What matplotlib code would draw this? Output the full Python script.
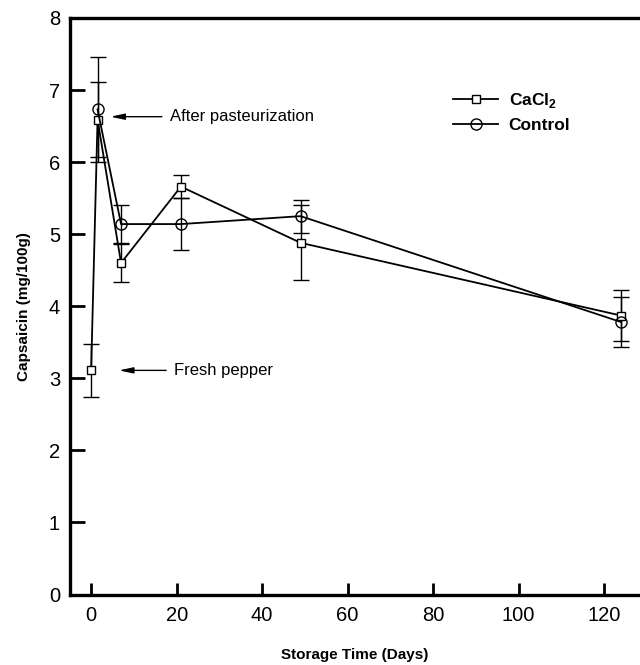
import numpy as np
import matplotlib
matplotlib.use('Agg')
import matplotlib.pyplot as plt
import matplotlib as mpl

mpl.rcParams['font.family'] = ['Liberation Sans', 'DejaVu Sans']
mpl.rcParams['mathtext.fontset'] = 'custom'
mpl.rcParams['mathtext.rm'] = 'Liberation Sans'
mpl.rcParams['mathtext.bf'] = 'Liberation Sans:bold'

# storage days
days_cacl2 = [0, 1.5, 7, 21, 49, 124]
cap_cacl2 = [3.11, 6.59, 4.60, 5.66, 4.88, 3.87]
err_cacl2 = [0.37, 0.52, 0.27, 0.16, 0.52, 0.35]

days_ctrl = [1.5, 7, 21, 49, 124]
cap_ctrl = [6.73, 5.14, 5.14, 5.25, 3.78]
err_ctrl = [0.73, 0.26, 0.36, 0.23, 0.35]

x_ticks = [0, 20, 40, 60, 80, 100, 120]
y_ticks = [0, 1, 2, 3, 4, 5, 6, 7, 8]

fig = plt.figure(figsize=(6.4, 6.65), dpi=100)
ax = fig.add_axes([0.109, 0.106, 0.891, 0.867])

eb1 = ax.errorbar(days_cacl2, cap_cacl2, yerr=err_cacl2, color='k', marker='s',
                  markersize=6, mfc='white', mec='k', mew=1.0, linewidth=1.3,
                  elinewidth=1.0, capsize=6, capthick=1.2)
eb2 = ax.errorbar(days_ctrl, cap_ctrl, yerr=err_ctrl, color='k', marker='o',
                  markersize=8, mfc='none', mec='k', mew=1.0, linewidth=1.3,
                  elinewidth=1.0, capsize=6, capthick=1.2)

ax.set_xlim(-5, 128.4)
ax.set_ylim(0, 8)
ax.set_xticks(x_ticks)
ax.set_yticks(y_ticks)
ax.tick_params(direction='in', length=9, width=2, labelsize=14.5, pad=8)
ax.tick_params(axis='y', length=11, pad=7)

for side in ['left', 'bottom', 'top']:
    ax.spines[side].set_linewidth(2.4)
ax.spines['right'].set_visible(False)

ax.set_xlabel('Storage Time (Days)', fontsize=11, fontweight='bold', labelpad=17)
ax.set_ylabel('Capsaicin (mg/100g)', fontsize=11, fontweight='bold', labelpad=13)

ax.annotate('After pasteurization', xy=(4.5, 6.63), xytext=(18.5, 6.63),
            fontsize=12, va='center', ha='left',
            arrowprops=dict(arrowstyle='-|>,head_length=0.7,head_width=0.15',
                            color='k', lw=1.0, shrinkA=4, shrinkB=0))
ax.annotate('Fresh pepper', xy=(6.5, 3.11), xytext=(19.5, 3.11),
            fontsize=12, va='center', ha='left',
            arrowprops=dict(arrowstyle='-|>,head_length=0.7,head_width=0.15',
                            color='k', lw=1.0, shrinkA=4, shrinkB=0))

ax.legend(handles=[eb1[0], eb2[0]], labels=[r'CaCl$_\mathbf{2}$', 'Control'],
          loc='upper left', bbox_to_anchor=(0.645, 0.9), frameon=False,
          prop={'weight': 'bold', 'size': 12.5}, handlelength=2.6,
          handletextpad=0.6, labelspacing=0.45)

fig.savefig('out.png', dpi=100)
